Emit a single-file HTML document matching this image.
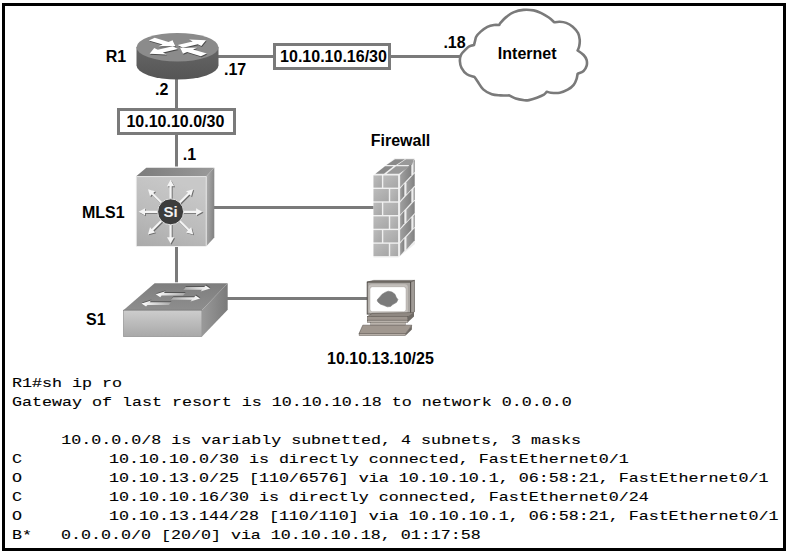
<!DOCTYPE html>
<html><head><meta charset="utf-8"><style>
html,body{margin:0;padding:0;background:#fff;}
body{width:788px;height:554px;overflow:hidden;position:relative;}
#frame{position:absolute;left:2px;top:3px;width:778px;height:542px;border:3px solid #000;}
svg{position:absolute;left:0;top:0;}
.lab text{font-family:"Liberation Sans",sans-serif;font-weight:bold;font-size:16px;fill:#000;text-anchor:middle;}
.mono text{font-family:"Liberation Mono",monospace;font-size:13.4px;font-weight:normal;fill:#000;white-space:pre;letter-spacing:0px;stroke:#000;stroke-width:0.12px;}
</style></head><body>
<div id="frame"></div>
<svg width="788" height="554" viewBox="0 0 788 554">
<defs>
<linearGradient id="mlsFront" x1="0.4" y1="0" x2="0" y2="1"><stop offset="0" stop-color="#c8c8c8"/><stop offset="0.5" stop-color="#bcbcbc"/><stop offset="1" stop-color="#aaaaaa"/></linearGradient>
<linearGradient id="mlsTop" x1="0" y1="0" x2="1" y2="0"><stop offset="0" stop-color="#7c7c7c"/><stop offset="1" stop-color="#9a9a9a"/></linearGradient>
<linearGradient id="mlsSide" x1="0" y1="0" x2="1" y2="0.3"><stop offset="0" stop-color="#b0b0b0"/><stop offset="1" stop-color="#868686"/></linearGradient>
<linearGradient id="swFront" x1="0" y1="0" x2="0" y2="1"><stop offset="0" stop-color="#cdcdcd"/><stop offset="1" stop-color="#a8a8a8"/></linearGradient>
<linearGradient id="swTop" x1="0" y1="0" x2="0" y2="1"><stop offset="0" stop-color="#7e7e7e"/><stop offset="1" stop-color="#8e8e8e"/></linearGradient>
<linearGradient id="swSide" x1="0" y1="0" x2="1" y2="0"><stop offset="0" stop-color="#9a9a9a"/><stop offset="1" stop-color="#7a7a7a"/></linearGradient>
<linearGradient id="brick" x1="0" y1="0" x2="1" y2="1"><stop offset="0" stop-color="#bcbcbc"/><stop offset="1" stop-color="#a6a6a6"/></linearGradient>
<linearGradient id="brickR" x1="0" y1="0" x2="1" y2="0"><stop offset="0" stop-color="#a0a0a0"/><stop offset="1" stop-color="#808080"/></linearGradient>
<linearGradient id="rtBody" x1="0" y1="0" x2="0" y2="1"><stop offset="0" stop-color="#666"/><stop offset="1" stop-color="#555"/></linearGradient>
</defs>
<g stroke="#7a7a7a" stroke-width="3" fill="none">
<line x1="218" y1="56.5" x2="461" y2="56.5"/>
<line x1="176.5" y1="78" x2="176.5" y2="166.5"/>
<line x1="212" y1="207.5" x2="374" y2="207.5"/>
<line x1="176.5" y1="247" x2="176.5" y2="282.3"/>
<line x1="226" y1="298.5" x2="368" y2="298.5"/>
</g>
<!-- boxes -->
<rect x="274.5" y="44.5" width="115" height="24" fill="#fff" stroke="#7a7a7a" stroke-width="3"/>
<rect x="118.5" y="109.5" width="116" height="24" fill="#fff" stroke="#7a7a7a" stroke-width="3"/>
<!-- cloud -->
<path d="M474.0,45.0 C474.2,44.4 474.6,42.6 475.0,41.2 C475.4,39.8 475.4,38.0 476.4,36.4 C477.3,34.8 478.9,33.2 480.7,31.6 C482.5,30.0 485.2,28.0 487.4,26.9 C489.6,25.8 492.0,25.3 494.0,25.0 C496.0,24.7 498.4,25.0 499.3,25.0 C499.5,24.6 499.5,24.0 500.7,22.6 C501.9,21.2 504.2,18.6 506.4,16.9 C508.6,15.1 511.1,13.3 514.0,12.1 C516.9,10.9 520.2,10.2 523.5,9.9 C526.8,9.6 530.7,9.9 533.7,10.4 C536.7,10.9 538.8,11.9 541.3,13.1 C543.8,14.3 546.6,16.0 548.8,17.5 C551.0,19.0 553.4,21.5 554.3,22.3 C555.2,22.2 557.7,21.7 559.7,21.8 C561.7,21.9 564.0,22.1 566.2,22.9 C568.4,23.7 570.7,25.0 572.7,26.7 C574.7,28.4 576.9,31.0 578.1,33.2 C579.3,35.4 579.5,37.5 579.7,39.7 C579.9,41.9 579.6,44.4 579.2,46.2 C578.9,48.0 577.9,49.8 577.6,50.5 C578.6,51.2 582.1,53.4 583.6,55.0 C585.1,56.6 586.1,58.1 586.6,59.9 C587.1,61.7 587.1,64.1 586.6,65.9 C586.1,67.7 585.1,69.6 583.6,70.9 C582.1,72.2 578.6,73.3 577.6,73.8 C577.4,74.6 577.2,77.0 576.6,78.8 C576.0,80.6 575.2,83.0 573.7,84.8 C572.2,86.6 570.0,88.4 567.7,89.7 C565.4,91.0 562.6,92.2 559.8,92.7 C557.0,93.2 553.0,92.9 550.8,92.7 C548.6,92.5 547.5,91.9 546.8,91.7 C546.3,92.2 545.5,93.7 543.9,94.7 C542.2,95.7 539.4,96.8 536.9,97.7 C534.4,98.6 531.1,99.7 529.0,100.1 C526.9,100.5 526.6,100.5 524.4,100.3 C522.2,100.0 518.2,99.4 515.7,98.6 C513.2,97.8 510.3,95.9 509.2,95.4 C507.8,95.4 503.4,95.6 500.5,95.4 C497.6,95.2 494.7,95.3 491.8,94.3 C488.9,93.3 485.5,91.5 483.2,89.4 C480.9,87.3 479.2,83.9 477.8,81.8 C476.4,79.7 475.1,77.8 474.5,77.0 C473.2,76.5 469.1,75.8 466.9,74.3 C464.7,72.8 462.7,70.0 461.5,67.8 C460.3,65.6 460.0,63.5 459.9,61.3 C459.8,59.1 460.0,56.8 461.0,54.8 C462.0,52.8 464.4,50.7 465.8,49.3 C467.2,47.9 467.9,47.1 469.3,46.4 C470.7,45.7 473.2,45.2 474.0,45.0 Z" fill="#fff" stroke="#7a7a7a" stroke-width="2.6" stroke-linejoin="round"/>
<!-- router -->
<path d="M136.5,47.2 L136.5,65.3 A41,14.3 0 0 0 218.5,65.3 L218.5,47.2 Z" fill="url(#rtBody)"/>
<ellipse cx="177.5" cy="47.2" rx="41" ry="14.3" fill="#8b8b8b"/>
<g><polygon points="177.71,45.02 192.64,41.40 189.06,39.49 205.99,40.16 201.36,46.06 197.78,44.15 182.86,47.77" fill="#4a4a4a" transform="translate(0.6,1.0)"/><polygon points="177.89,48.98 162.96,52.60 166.54,54.51 149.61,53.84 154.24,47.94 157.82,49.85 172.74,46.23" fill="#4a4a4a" transform="translate(0.6,1.0)"/><polygon points="154.71,37.86 168.50,42.03 172.61,40.26 175.50,46.31 158.47,46.33 162.59,44.57 148.80,40.40" fill="#4a4a4a" transform="translate(0.6,1.0)"/><polygon points="200.89,56.14 187.10,51.97 182.99,53.74 180.10,47.69 197.13,47.67 193.01,49.43 206.80,53.60" fill="#4a4a4a" transform="translate(0.6,1.0)"/><polygon points="177.71,45.02 192.64,41.40 189.06,39.49 205.99,40.16 201.36,46.06 197.78,44.15 182.86,47.77" fill="#fff"/><polygon points="177.89,48.98 162.96,52.60 166.54,54.51 149.61,53.84 154.24,47.94 157.82,49.85 172.74,46.23" fill="#fff"/><polygon points="154.71,37.86 168.50,42.03 172.61,40.26 175.50,46.31 158.47,46.33 162.59,44.57 148.80,40.40" fill="#fff"/><polygon points="200.89,56.14 187.10,51.97 182.99,53.74 180.10,47.69 197.13,47.67 193.01,49.43 206.80,53.60" fill="#fff"/></g>
<!-- MLS1 -->
<polygon points="136.2,176.3 146.3,167.8 214.3,167.8 206.3,176.3" fill="url(#mlsTop)"/>
<polygon points="206.3,176.3 214.3,167.8 214.3,237.5 206.3,246.2" fill="url(#mlsSide)"/>
<rect x="136.2" y="176.3" width="70.1" height="69.9" fill="url(#mlsFront)"/>
<polyline points="136.4,246 136.4,176.6 206.2,176.6 206.2,246" fill="none" stroke="#e6e6e6" stroke-width="0.9"/>
<g><polygon points="182.60,210.70 196.10,210.70 196.10,208.20 202.60,211.80 196.10,215.40 196.10,212.90 182.60,212.90" fill="#6a6a6a" transform="translate(0.9,0.9)"/><polygon points="179.86,219.51 189.41,229.05 191.18,227.29 193.23,234.43 186.09,232.38 187.85,230.61 178.31,221.06" fill="#6a6a6a" transform="translate(0.9,0.9)"/><polygon points="171.70,223.80 171.70,237.30 174.20,237.30 170.60,243.80 167.00,237.30 169.50,237.30 169.50,223.80" fill="#6a6a6a" transform="translate(0.9,0.9)"/><polygon points="162.89,221.06 153.35,230.61 155.11,232.38 147.97,234.43 150.02,227.29 151.79,229.05 161.34,219.51" fill="#6a6a6a" transform="translate(0.9,0.9)"/><polygon points="158.60,212.90 145.10,212.90 145.10,215.40 138.60,211.80 145.10,208.20 145.10,210.70 158.60,210.70" fill="#6a6a6a" transform="translate(0.9,0.9)"/><polygon points="161.34,204.09 151.79,194.55 150.02,196.31 147.97,189.17 155.11,191.22 153.35,192.99 162.89,202.54" fill="#6a6a6a" transform="translate(0.9,0.9)"/><polygon points="169.50,199.80 169.50,186.30 167.00,186.30 170.60,179.80 174.20,186.30 171.70,186.30 171.70,199.80" fill="#6a6a6a" transform="translate(0.9,0.9)"/><polygon points="178.31,202.54 187.85,192.99 186.09,191.22 193.23,189.17 191.18,196.31 189.41,194.55 179.86,204.09" fill="#6a6a6a" transform="translate(0.9,0.9)"/><polygon points="182.60,210.70 196.10,210.70 196.10,208.20 202.60,211.80 196.10,215.40 196.10,212.90 182.60,212.90" fill="#f4f4f4"/><polygon points="179.86,219.51 189.41,229.05 191.18,227.29 193.23,234.43 186.09,232.38 187.85,230.61 178.31,221.06" fill="#f4f4f4"/><polygon points="171.70,223.80 171.70,237.30 174.20,237.30 170.60,243.80 167.00,237.30 169.50,237.30 169.50,223.80" fill="#f4f4f4"/><polygon points="162.89,221.06 153.35,230.61 155.11,232.38 147.97,234.43 150.02,227.29 151.79,229.05 161.34,219.51" fill="#f4f4f4"/><polygon points="158.60,212.90 145.10,212.90 145.10,215.40 138.60,211.80 145.10,208.20 145.10,210.70 158.60,210.70" fill="#f4f4f4"/><polygon points="161.34,204.09 151.79,194.55 150.02,196.31 147.97,189.17 155.11,191.22 153.35,192.99 162.89,202.54" fill="#f4f4f4"/><polygon points="169.50,199.80 169.50,186.30 167.00,186.30 170.60,179.80 174.20,186.30 171.70,186.30 171.70,199.80" fill="#f4f4f4"/><polygon points="178.31,202.54 187.85,192.99 186.09,191.22 193.23,189.17 191.18,196.31 189.41,194.55 179.86,204.09" fill="#f4f4f4"/></g>
<circle cx="170.6" cy="211.8" r="13" fill="#3c3c3c" stroke="#e0e0e0" stroke-width="1"/>
<text x="170.6" y="217.0" font-family="Liberation Sans" font-weight="bold" font-size="15" fill="#f0f0f0" text-anchor="middle">Si</text>
<!-- firewall -->
<rect x="373.5" y="175.3" width="24.8" height="82.2" fill="#f0f0f0"/>
<rect x="373.5" y="175.3" width="8.4" height="12.3" fill="url(#brick)"/>
<rect x="383.3" y="175.3" width="15.0" height="12.3" fill="url(#brick)"/>
<rect x="373.5" y="189.0" width="15.3" height="12.3" fill="url(#brick)"/>
<rect x="390.2" y="189.0" width="8.1" height="12.3" fill="url(#brick)"/>
<rect x="373.5" y="202.7" width="8.4" height="12.3" fill="url(#brick)"/>
<rect x="383.3" y="202.7" width="15.0" height="12.3" fill="url(#brick)"/>
<rect x="373.5" y="216.4" width="15.3" height="12.3" fill="url(#brick)"/>
<rect x="390.2" y="216.4" width="8.1" height="12.3" fill="url(#brick)"/>
<rect x="373.5" y="230.1" width="8.4" height="12.3" fill="url(#brick)"/>
<rect x="383.3" y="230.1" width="15.0" height="12.3" fill="url(#brick)"/>
<rect x="373.5" y="243.8" width="15.3" height="12.3" fill="url(#brick)"/>
<rect x="390.2" y="243.8" width="8.1" height="12.3" fill="url(#brick)"/>
<polygon points="398.3,175.3 415,158.5 415,244 398.3,257.5" fill="#eeeeee"/>
<polygon points="400.10,174.99 411.33,162.90 411.33,175.20 400.10,187.29" fill="url(#brickR)"/>
<polygon points="413.46,161.55 414.67,159.54 414.67,171.84 413.46,173.85" fill="url(#brickR)"/>
<polygon points="400.10,188.69 404.31,183.65 404.31,195.95 400.10,200.99" fill="url(#brickR)"/>
<polygon points="406.45,182.31 414.67,173.24 414.67,185.54 406.45,194.61" fill="url(#brickR)"/>
<polygon points="400.10,202.39 411.33,190.30 411.33,202.60 400.10,214.69" fill="url(#brickR)"/>
<polygon points="413.46,188.95 414.67,186.94 414.67,199.24 413.46,201.25" fill="url(#brickR)"/>
<polygon points="400.10,216.09 404.31,211.05 404.31,223.35 400.10,228.39" fill="url(#brickR)"/>
<polygon points="406.45,209.71 414.67,200.64 414.67,212.94 406.45,222.01" fill="url(#brickR)"/>
<polygon points="400.10,229.79 411.33,217.70 411.33,230.00 400.10,242.09" fill="url(#brickR)"/>
<polygon points="413.46,216.35 414.67,214.34 414.67,226.64 413.46,228.65" fill="url(#brickR)"/>
<polygon points="400.10,243.49 404.31,238.45 404.31,250.75 400.10,255.79" fill="url(#brickR)"/>
<polygon points="406.45,237.11 414.67,228.04 414.67,240.34 406.45,249.41" fill="url(#brickR)"/>
<polygon points="373.5,175.3 394.5,158.3 415,158.3 398.3,175.3" fill="#efefef"/>
<polygon points="375.5,173.8 385,166.3 393.5,166.3 384,173.8" fill="#8a8a8a"/>
<polygon points="386.5,173.8 396,166.3 410,166.3 399,173.8" fill="#999"/>
<polygon points="386.5,165 395,159.3 405,159.3 396,165" fill="#8a8a8a"/>
<polygon points="397.5,165 406,159.3 414,159.3 412,165" fill="#999"/>
<!-- switch -->
<polygon points="123.4,310.3 154.6,283.2 227.7,283.2 201.8,310.3" fill="url(#swTop)"/>
<polygon points="201.8,310.3 227.7,283.2 227.7,309.7 201.8,336.7" fill="url(#swSide)"/>
<line x1="123.4" y1="310.3" x2="201.8" y2="310.3" stroke="#6e6e6e" stroke-width="0.9"/>
<rect x="123.4" y="310.3" width="78.4" height="26.4" fill="url(#swFront)" stroke="#8a8a8a" stroke-width="0.6"/>
<g><linearGradient id="swa0" x1="0" y1="0" x2="1" y2="0"><stop offset="0" stop-color="#a8a8a8"/><stop offset="0.55" stop-color="#d8d8d8"/><stop offset="1" stop-color="#ffffff"/></linearGradient><polygon points="185.61,287.10 204.21,287.10 205.65,285.40 210.10,288.40 200.55,291.40 201.99,289.70 183.39,289.70" fill="#555" transform="translate(0.4,-1.0)"/><polygon points="185.61,287.10 204.21,287.10 205.65,285.40 210.10,288.40 200.55,291.40 201.99,289.70 183.39,289.70" fill="url(#swa0)"/><linearGradient id="swa1" x1="1" y1="0" x2="0" y2="0"><stop offset="0" stop-color="#a8a8a8"/><stop offset="0.55" stop-color="#d8d8d8"/><stop offset="1" stop-color="#ffffff"/></linearGradient><polygon points="185.31,293.00 163.91,293.00 165.35,291.30 155.80,294.30 160.25,297.30 161.69,295.60 183.09,295.60" fill="#555" transform="translate(0.4,-1.0)"/><polygon points="185.31,293.00 163.91,293.00 165.35,291.30 155.80,294.30 160.25,297.30 161.69,295.60 183.09,295.60" fill="url(#swa1)"/><linearGradient id="swa2" x1="0" y1="0" x2="1" y2="0"><stop offset="0" stop-color="#a8a8a8"/><stop offset="0.55" stop-color="#d8d8d8"/><stop offset="1" stop-color="#ffffff"/></linearGradient><polygon points="173.11,297.20 194.11,297.20 195.55,295.50 200.00,298.50 190.45,301.50 191.89,299.80 170.89,299.80" fill="#555" transform="translate(0.4,-1.0)"/><polygon points="173.11,297.20 194.11,297.20 195.55,295.50 200.00,298.50 190.45,301.50 191.89,299.80 170.89,299.80" fill="url(#swa2)"/><linearGradient id="swa3" x1="1" y1="0" x2="0" y2="0"><stop offset="0" stop-color="#a8a8a8"/><stop offset="0.55" stop-color="#d8d8d8"/><stop offset="1" stop-color="#ffffff"/></linearGradient><polygon points="171.11,302.30 149.71,302.30 151.15,300.60 141.60,303.60 146.05,306.60 147.49,304.90 168.89,304.90" fill="#555" transform="translate(0.4,-1.0)"/><polygon points="171.11,302.30 149.71,302.30 151.15,300.60 141.60,303.60 146.05,306.60 147.49,304.90 168.89,304.90" fill="url(#swa3)"/></g>
<!-- PC -->
<polygon points="367.2,282.1 373.7,280.4 414.5,280.4 410.6,282.1" fill="#8d8883" stroke="#55504b" stroke-width="0.6"/>
<polygon points="410.6,282.1 414.5,280.4 414.5,311.8 410.6,314.1" fill="#a09b96" stroke="#55504b" stroke-width="0.6"/>
<rect x="367.2" y="282.1" width="43.4" height="32" fill="#aaa6a2" stroke="#4d4843" stroke-width="0.9"/>
<rect x="368.6" y="284.2" width="39.2" height="29" rx="3" fill="#c4c0bc"/>
<rect x="369.9" y="286.7" width="36.2" height="25.1" rx="2.6" fill="#fff" stroke="#9a9590" stroke-width="0.5"/>
<polygon points="377.1,300 379.8,296.9 382.1,294.3 385.1,292.4 388.2,291.2 392,292 395,294.3 396.2,297.3 397.9,299.6 396.6,302.3 392.7,304.6 390.5,306.5 387.4,306.8 383.6,305.3 380.6,304.2 377.9,301.9" fill="#7b7b7b" stroke="#7b7b7b" stroke-width="0.6" stroke-linejoin="round"/>
<rect x="371" y="314.1" width="34.5" height="2.5" fill="#a39c95" stroke="#5c5650" stroke-width="0.5"/>
<polygon points="367.4,316.6 372,313.5 414,312.4 407.8,318.5" fill="#8f8882" stroke="#5c5650" stroke-width="0.5"/>
<polygon points="407.8,316.6 414,312.4 414,316.5 407.8,322.3" fill="#6f6a65"/>
<rect x="367.4" y="316.6" width="40.4" height="3.6" fill="#9e968f" stroke="#5c5650" stroke-width="0.5"/>
<rect x="367.4" y="320.2" width="40.4" height="2.1" fill="#b8b1aa" stroke="#5c5650" stroke-width="0.5"/>
<rect x="370.7" y="322.3" width="34.6" height="2.9" fill="#bab3ac" stroke="#6a645e" stroke-width="0.4"/>
<polygon points="362.8,325.2 411.9,325.2 405.7,333.5 359.1,333.5" fill="#a0978f" stroke="#5c5650" stroke-width="0.6"/>
<polygon points="405.7,333.5 411.9,325.2 411.9,329.5 405.7,335.5" fill="#6f6a65"/>
<rect x="359.1" y="333.5" width="46.6" height="2" fill="#b5ada6" stroke="#5c5650" stroke-width="0.5"/>
<g class="lab">
<text x="116.0" y="61.9">R1</text>
<text x="235.1" y="74.5">.17</text>
<text x="161.7" y="95.0">.2</text>
<text x="333.5" y="61.6">10.10.10.16/30</text>
<text x="454.5" y="48.3">.18</text>
<text x="527.2" y="59.4">Internet</text>
<text x="175.4" y="126.7">10.10.10.0/30</text>
<text x="189.5" y="159.9">.1</text>
<text x="400.5" y="145.5">Firewall</text>
<text x="103.3" y="217.6">MLS1</text>
<text x="95.8" y="324.8">S1</text>
<text x="380.4" y="363.8">10.10.13.10/25</text>
</g>
<g class="mono" transform="translate(12.0,0) scale(1.2437810945273633,1)">
<text x="0.000" y="386.6">R1#sh ip ro</text>
<text x="0.000" y="405.6">Gateway of last resort is 10.10.10.18 to network 0.0.0.0</text>
<text x="39.637" y="443.8">10.0.0.0/8 is variably subnetted, 4 subnets, 3 masks</text>
<text x="0.000" y="462.7">C</text>
<text x="77.988" y="462.7">10.10.10.0/30 is directly connected, FastEthernet0/1</text>
<text x="0.000" y="481.6">O</text>
<text x="77.988" y="481.6">10.10.13.0/25 [110/6576] via 10.10.10.1, 06:58:21, FastEthernet0/1</text>
<text x="0.000" y="500.9">C</text>
<text x="77.988" y="500.9">10.10.10.16/30 is directly connected, FastEthernet0/24</text>
<text x="0.000" y="519.8">O</text>
<text x="77.988" y="519.8">10.10.13.144/28 [110/110] via 10.10.10.1, 06:58:21, FastEthernet0/1</text>
<text x="0.000" y="538.9">B*</text>
<text x="39.396" y="538.9">0.0.0.0/0 [20/0] via 10.10.10.18, 01:17:58</text>
</g>
</svg>
</body></html>
